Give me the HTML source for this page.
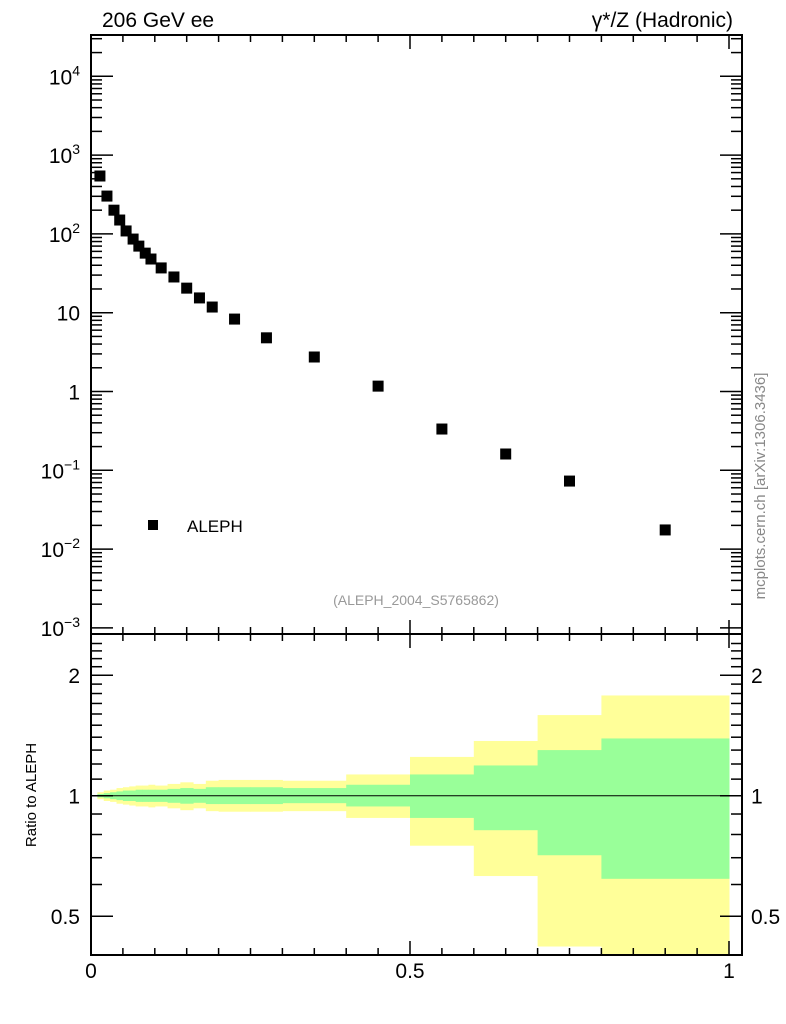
<!DOCTYPE html>
<html><head><meta charset="utf-8">
<style>
html,body{margin:0;padding:0;background:#fff;}
svg{display:block;font-family:"Liberation Sans",sans-serif;}
</style></head>
<body>
<svg id="c" width="786" height="1024" xmlns="http://www.w3.org/2000/svg"></svg>
<script>
const xVals=[0.014,0.025,0.036,0.045,0.055,0.066,0.075,0.085,0.094,0.11,0.13,0.15,0.17,0.19,0.225,0.275,0.35,0.45,0.55,0.65,0.75,0.9];
const yVals=[543,302,200,150,109,86,70,57,48,37,28.4,20.5,15.4,11.8,8.3,4.8,2.74,1.17,0.334,0.161,0.073,0.0175];
const binEdges=[0.01,0.02,0.03,0.04,0.05,0.06,0.07,0.08,0.09,0.1,0.12,0.14,0.16,0.18,0.2,0.25,0.3,0.4,0.5,0.6,0.7,0.8,1.0];
const yellowUp=[1.02,1.03,1.035,1.045,1.05,1.055,1.06,1.06,1.065,1.06,1.07,1.08,1.07,1.09,1.095,1.095,1.09,1.13,1.25,1.37,1.59,1.78];
const yellowDn=[0.98,0.97,0.965,0.955,0.95,0.945,0.94,0.94,0.935,0.94,0.93,0.92,0.93,0.915,0.912,0.912,0.915,0.88,0.75,0.63,0.42,0.38];
const greenUp=[1.01,1.015,1.02,1.025,1.03,1.03,1.035,1.035,1.035,1.035,1.04,1.045,1.04,1.05,1.05,1.05,1.045,1.065,1.13,1.19,1.30,1.39];
const greenDn=[0.99,0.985,0.98,0.975,0.97,0.97,0.965,0.965,0.965,0.965,0.96,0.955,0.96,0.953,0.953,0.953,0.958,0.94,0.88,0.82,0.71,0.62];
const xTicks=[0,0.5,1];
const xTickLabels=["0","0.5","1"];
const ratioTicks=[0.5,1,2];
const ratioTickLabels=["0.5","1","2"];

const L=91,R=742,T=35,M=634,B=955;
const sx=v=>91+v*638;
const sy=v=>391.5-78.8*Math.log10(v);
const ry=v=>795.7-400.3*Math.log10(v);
const svg=document.getElementById('c');
const NS='http://www.w3.org/2000/svg';
function el(tag,attrs,parent){const e=document.createElementNS(NS,tag);for(const k in attrs)e.setAttribute(k,attrs[k]);(parent||svg).appendChild(e);return e;}
function txt(s,attrs){const e=el('text',attrs);e.textContent=s;return e;}

// ratio bands
const clip=el('clipPath',{id:'rc'});el('rect',{x:L,y:M,width:R-L,height:B-M},clip);
const bands=el('g',{'clip-path':'url(#rc)'});


for(let i=0;i<binEdges.length-1;i++){
  const x0=sx(binEdges[i]),x1=sx(binEdges[i+1]);
  const y=el('rect',{x:x0,y:ry(yellowUp[i]),width:x1-x0+0.5,height:ry(yellowDn[i])-ry(yellowUp[i]),fill:'#ffff99'},bands);
  
  
}
for(let i=0;i<binEdges.length-1;i++){
  const x0=sx(binEdges[i]),x1=sx(binEdges[i+1]);
  const g=el('rect',{x:x0,y:ry(greenUp[i]),width:x1-x0+0.5,height:ry(greenDn[i])-ry(greenUp[i]),fill:'#99ff99'},bands);
  
  
}
const one=el('line',{x1:L,x2:R,y1:ry(1),y2:ry(1),stroke:'#000','stroke-width':1});



// frames
const f1=el('rect',{x:L,y:T,width:R-L,height:M-T,fill:'none',stroke:'#000','stroke-width':2});


const f2=el('rect',{x:L,y:M,width:R-L,height:B-M,fill:'none',stroke:'#000','stroke-width':2});



// x ticks
const tg=el('g',{stroke:'#000','stroke-width':1.5});


for(let k=1;k<=20;k++){
  const v=k*0.05;const x=sx(v);if(x>R)break;
  const len=(k%10==0)?14:7;
  [[T,1],[M,-1],[M,1],[B,-1]].forEach(([y,d])=>el('line',{x1:x,x2:x,y1:y,y2:y+d*len},tg));
}
// main y ticks
for(let d=-3;d<=4;d++){
  for(let m=1;m<10;m++){
    const y=sy(m*Math.pow(10,d));if(y<T||y>M)continue;
    const len=m==1?22:11;
    el('line',{x1:L,x2:L+len,y1:y,y2:y},tg);
    el('line',{x1:R,x2:R-len,y1:y,y2:y},tg);
  }
}
// ratio y ticks
for(let v=0.4;v<=2.5;v+=0.1){
  const y=ry(v);if(y<M||y>B)continue;
  const big=Math.abs(v-0.5)<1e-6||Math.abs(v-1)<1e-6||Math.abs(v-2)<1e-6;
  const len=big?22:11;
  el('line',{x1:L,x2:L+len,y1:y,y2:y},tg);
  el('line',{x1:R,x2:R-len,y1:y,y2:y},tg);
}
// main y labels
const ylab=[["10","4",4],["10","3",3],["10","2",2],["10","",1],["1","",0],["10","−1",-1],["10","−2",-2],["10","−3",-3]];
ylab.forEach(([b,e,d])=>{
  const y=sy(Math.pow(10,d))+8;
  const t=el('text',{x:80,y:y,'font-size':21,'text-anchor':'end'});
  
  
  t.appendChild(document.createTextNode(b));
  if(e){const s=el('tspan',{'font-size':14,dy:-9},t);s.textContent=e;}
});
// ratio labels
ratioTicks.forEach((v,i)=>{
  const a=txt(ratioTickLabels[i],{x:80,y:ry(v)+8,'font-size':21,'text-anchor':'end'});
  
  
  const b=txt(ratioTickLabels[i],{x:751,y:ry(v)+8,'font-size':21});
  
  
});
xTicks.forEach((v,i)=>{
  const t=txt(xTickLabels[i],{x:sx(v),y:978,'font-size':21,'text-anchor':'middle'});
  
  
});

// data points
const pg=el('g',{fill:'#000'});


xVals.forEach((v,i)=>{
  const p=el('rect',{x:sx(v)-5.5,y:sy(yVals[i])-5.5,width:11,height:11},pg);
  
  
});

// legend & labels
const lm=el('rect',{x:148,y:520,width:10,height:10,fill:'#000'});


const lt=txt('ALEPH',{x:187,y:532,'font-size':17});


const t1=txt('206 GeV ee',{x:102,y:27,'font-size':21});


const t2=txt('γ*/Z (Hadronic)',{x:733,y:27,'font-size':21,'text-anchor':'end'});


const t3=txt('(ALEPH_2004_S5765862)',{x:416,y:605,'font-size':14,fill:'#999','text-anchor':'middle'});


const t4=txt('mcplots.cern.ch [arXiv:1306.3436]',{x:0,y:0,'font-size':15,fill:'#888','text-anchor':'middle',transform:'translate(765,486) rotate(-90)'});


const t5=txt('Ratio to ALEPH',{x:0,y:0,'font-size':15,'text-anchor':'middle',transform:'translate(36,795) rotate(-90)'});


</script>
</body></html>
